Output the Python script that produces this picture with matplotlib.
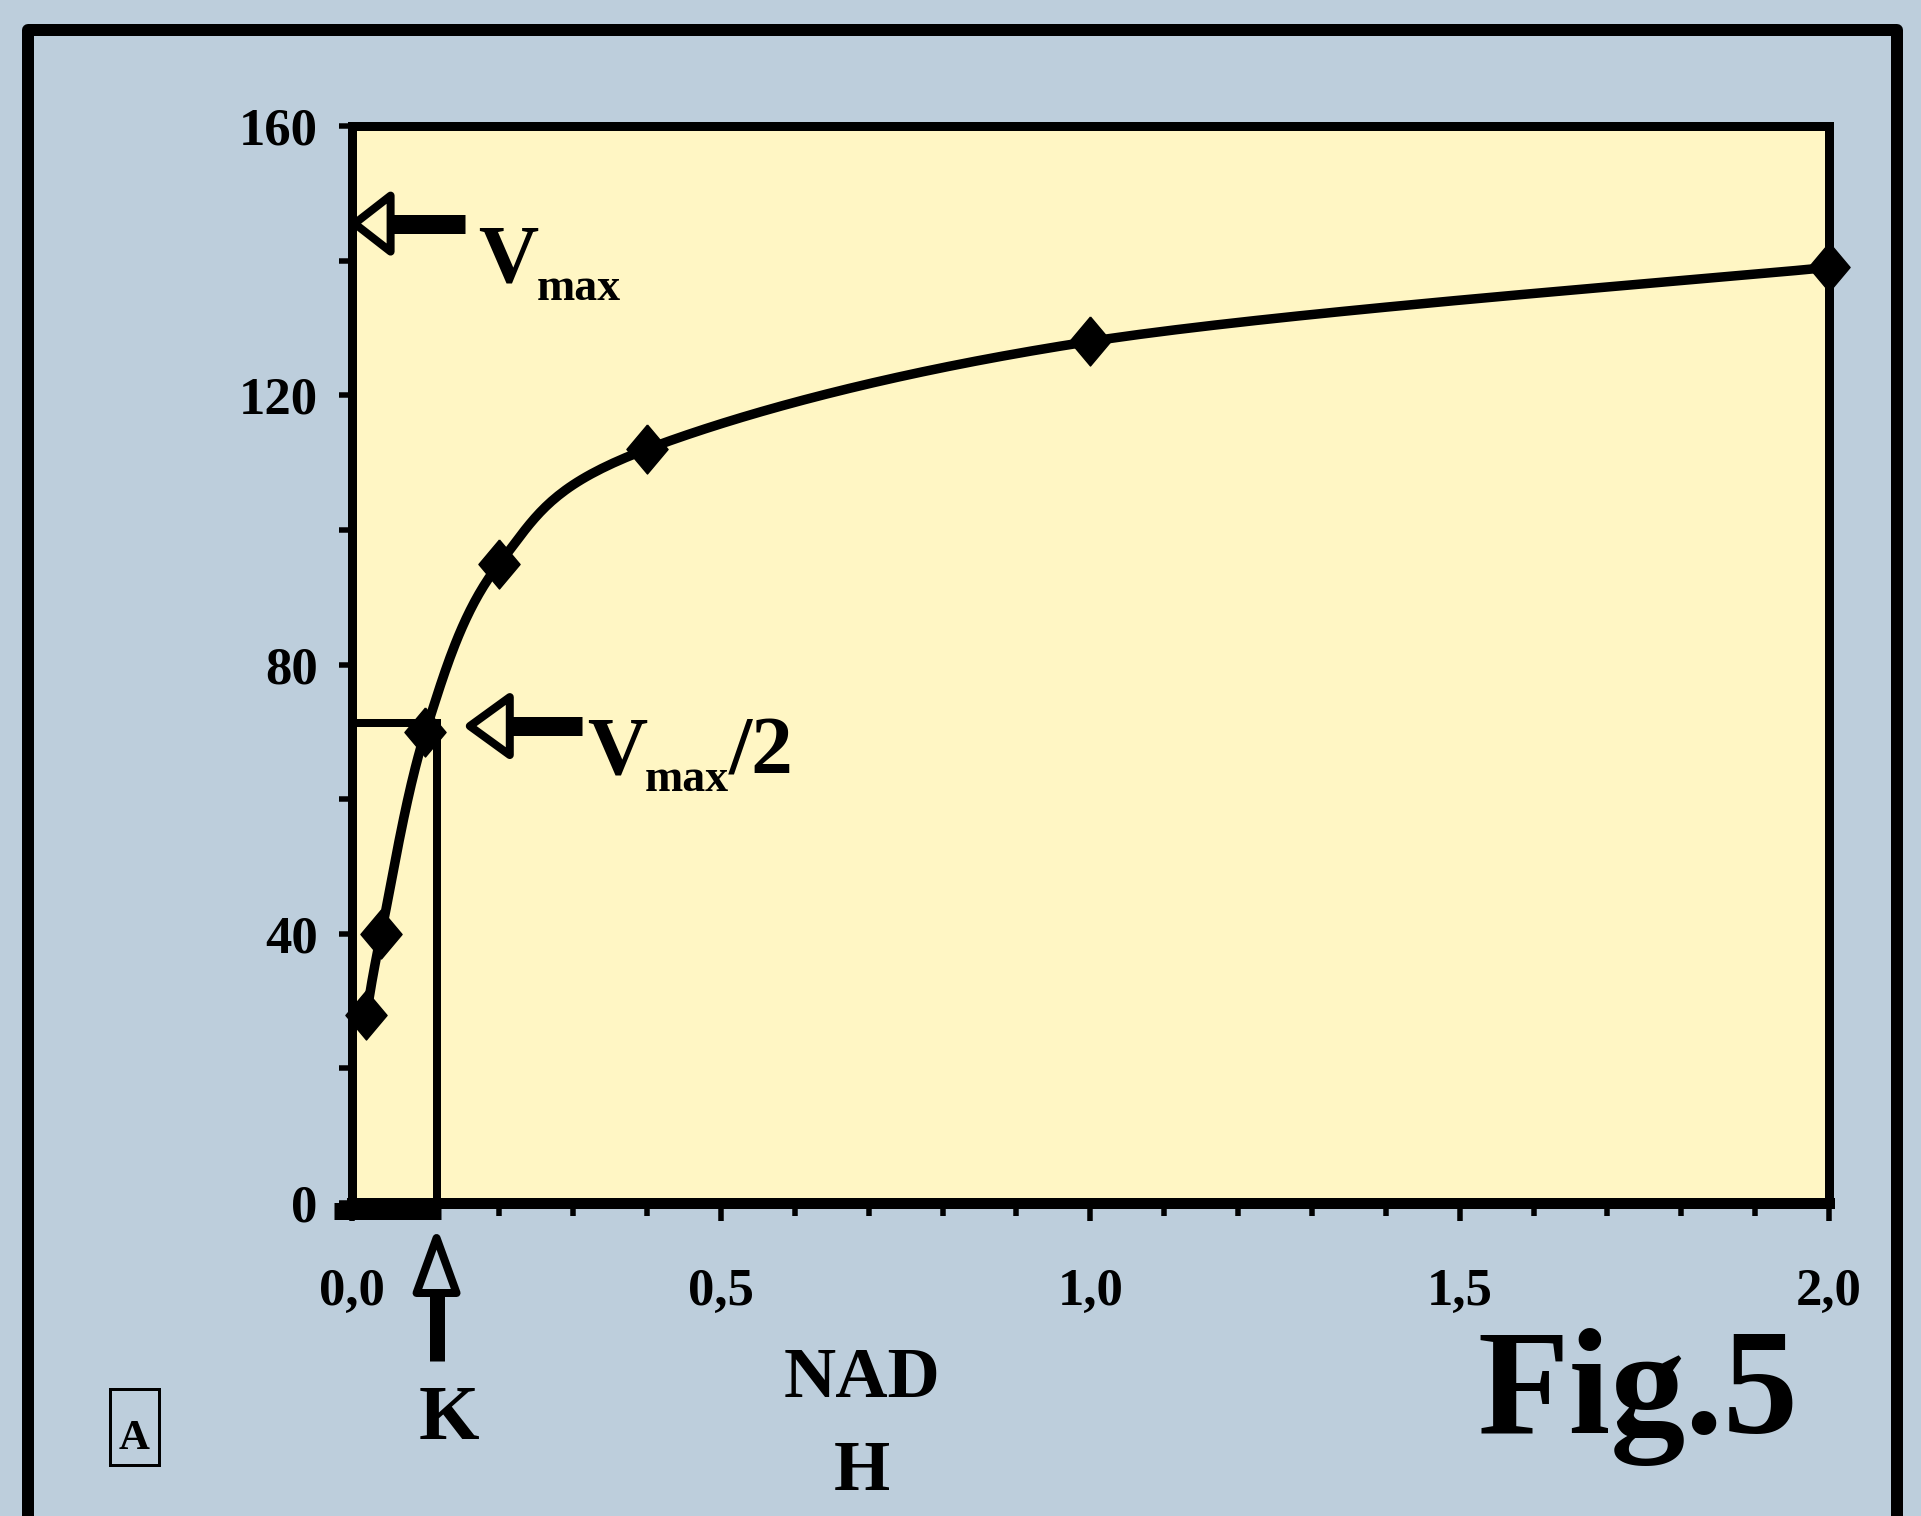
import matplotlib
matplotlib.use("Agg")
import matplotlib.pyplot as plt
import numpy as np
from matplotlib.patches import Polygon, Rectangle
from matplotlib.ticker import MultipleLocator, FuncFormatter

# -- values --------------------------------------------------------------
nad = [0.02, 0.04, 0.10, 0.20, 0.40, 1.00, 2.00]
rate = [28, 40, 70, 95, 112, 128, 139]
v_max = 145.5          # level pointed at by the V_max arrow
v_half = 71.3          # V_max/2 guide line
k_m = 0.115            # K (x of the vertical guide)
half_arrow_x = 0.16    # where the V_max/2 arrow tip sits

# -- look ------------------------------------------------------------------
W, H, DPI = 1921, 1516, 100
BG = "#bdcedc"
PANEL = "#fff6c4"
INK = "black"
PT = 72.0 / DPI        # px -> pt

plt.rcParams["font.family"] = ["Liberation Serif", "DejaVu Serif"]
plt.rcParams["font.weight"] = "bold"

fig = plt.figure(figsize=(W / DPI, H / DPI), dpi=DPI)
fig.patch.set_facecolor(BG)

ax = fig.add_axes([351.6 / W, 1 - 1203 / H, (1829 - 351.6) / W, (1203 - 126) / H],
                  zorder=2)
ax.set_facecolor(PANEL)
ax.set_xlim(0, 2.0)
ax.set_ylim(0, 160)
for s in ax.spines.values():
    s.set_linewidth(9 * PT)
ax.spines["bottom"].set_linewidth(11 * PT)

ax.xaxis.set_major_locator(MultipleLocator(0.5))
ax.xaxis.set_minor_locator(MultipleLocator(0.1))
ax.yaxis.set_major_locator(MultipleLocator(40))
ax.yaxis.set_minor_locator(MultipleLocator(20))
ax.xaxis.set_major_formatter(FuncFormatter(lambda v, _: f"{v:.1f}".replace(".", ",")))
ax.yaxis.set_major_formatter(FuncFormatter(lambda v, _: f"{v:.0f}"))

ax.tick_params(axis="x", which="major", length=18 * PT, width=5.5 * PT, pad=34,
               labelsize=38, direction="out")
ax.tick_params(axis="x", which="minor", length=13 * PT, width=5.5 * PT, direction="out")
ax.tick_params(axis="y", which="both", length=13 * PT, width=5.5 * PT, pad=15,
               labelsize=38, direction="out")


def smooth(xs, ys, n=40):
    """Excel-like smoothed line, built in pixel space."""
    tr = ax.transData
    P = tr.transform(np.column_stack([xs, ys]))
    out = [P[0]]
    t = np.linspace(0, 1, n)[1:, None]
    for i in range(len(P) - 1):
        p0 = P[max(i - 1, 0)]
        p1, p2 = P[i], P[i + 1]
        p3 = P[min(i + 2, len(P) - 1)]
        c1 = p1 + (p2 - p0) / 6
        c2 = p2 - (p3 - p1) / 6
        seg = (1 - t) ** 3 * p1 + 3 * (1 - t) ** 2 * t * c1 + 3 * (1 - t) * t ** 2 * c2 + t ** 3 * p2
        out.extend(seg)
    return tr.inverted().transform(np.array(out))


curve = smooth(nad, rate)
ax.plot(curve[:, 0], curve[:, 1], color=INK, lw=9.5 * PT, zorder=3, clip_on=False,
        solid_capstyle="round", solid_joinstyle="round")
diamond = [(0, 0.5), (0.42, 0), (0, -0.5), (-0.42, 0), (0, 0.5)]
ax.plot(nad, rate, ls="none", marker=diamond, ms=49 * PT, color=INK, zorder=4,
        clip_on=False)

# Km / Vmax/2 guide lines
ax.plot([0, k_m], [v_half, v_half], color=INK, lw=8 * PT, zorder=2.6)
ax.plot([k_m, k_m], [0, v_half], color=INK, lw=8 * PT, zorder=2.6)

# -- overlay in pixel coordinates (origin top-left) -------------------------
ov = fig.add_axes([0, 0, 1, 1], zorder=5)
ov.set_xlim(0, W)
ov.set_ylim(H, 0)
ov.axis("off")
ov.patch.set_alpha(0)
renderer = fig.canvas.get_renderer()


def px(x, y):
    d = ax.transData.transform((x, y))
    return d[0], H - d[1]


def hollow_arrow(tip, direction, head_len, head_half, shaft_len, shaft_w):
    tx, ty = tip
    dx, dy = direction
    nx, ny = -dy, dx
    bx, by = tx - dx * head_len, ty - dy * head_len
    ov.add_patch(Polygon([(tx, ty),
                          (bx + nx * head_half, by + ny * head_half),
                          (bx - nx * head_half, by - ny * head_half)],
                         closed=True, fill=False, ec=INK, lw=8 * PT,
                         joinstyle="round"))
    ov.plot([bx, bx - dx * shaft_len], [by, by - dy * shaft_len], color=INK,
            lw=shaft_w * PT, solid_capstyle="butt")


def right_edge(t):
    bb = t.get_window_extent(renderer)
    return bb.x1


def v_label(x, base, tail=""):
    """'V' with a lowered 'max', optional trailing text."""
    t1 = ov.text(x, base, "V", fontsize=60, ha="left", va="baseline")
    x2 = right_edge(t1) - 2
    t2 = ov.text(x2, base + 18, "max", fontsize=33, ha="left", va="baseline")
    if tail:
        x3 = right_edge(t2)
        ov.text(x3, base, tail, fontsize=60, ha="left", va="baseline")


# outer frame (open at the bottom)
ov.plot([28, 28, 1897, 1897], [H + 30, 30, 30, H + 30], color=INK, lw=12 * PT,
        solid_joinstyle="round", clip_on=False)

# Vmax arrow + label
tx, ty = px(0, v_max)
hollow_arrow((tx + 3, ty), (-1, 0), 36, 28, 74, 19)
v_label(tx + 127, ty + 58)

# Vmax/2 arrow + label
tx, ty = px(half_arrow_x, v_half)
hollow_arrow((tx, ty + 3), (-1, 0), 40, 29, 72, 19)
v_label(tx + 117, ty + 50, "/2")

# K arrow + label, thick bar under the axis up to K
kx, ky = px(k_m, 0)
ox, _ = px(0, 0)
ov.plot([ox - 18, kx + 4], [ky + 8, ky + 8], color=INK, lw=17 * PT,
        solid_capstyle="butt")
hollow_arrow((kx, ky + 35), (0, -1), 55, 20, 68, 15)
ov.text(kx + 12, ky + 236, "K", fontsize=56, ha="center", va="baseline")

# axis title
ov.text(862, 1397, "NAD", fontsize=52, ha="center", va="baseline")
ov.text(862, 1490, "H", fontsize=52, ha="center", va="baseline")

# figure tag
ov.text(1638, 1433, "Fig.5", fontsize=108, ha="center", va="baseline")

# panel letter
ov.add_patch(Rectangle((110, 1389), 49, 76, fill=False, ec=INK, lw=3 * PT))
ov.text(134.5, 1449, "A", fontsize=31, ha="center", va="baseline")

fig.savefig("out.png", dpi=DPI, facecolor=BG)
